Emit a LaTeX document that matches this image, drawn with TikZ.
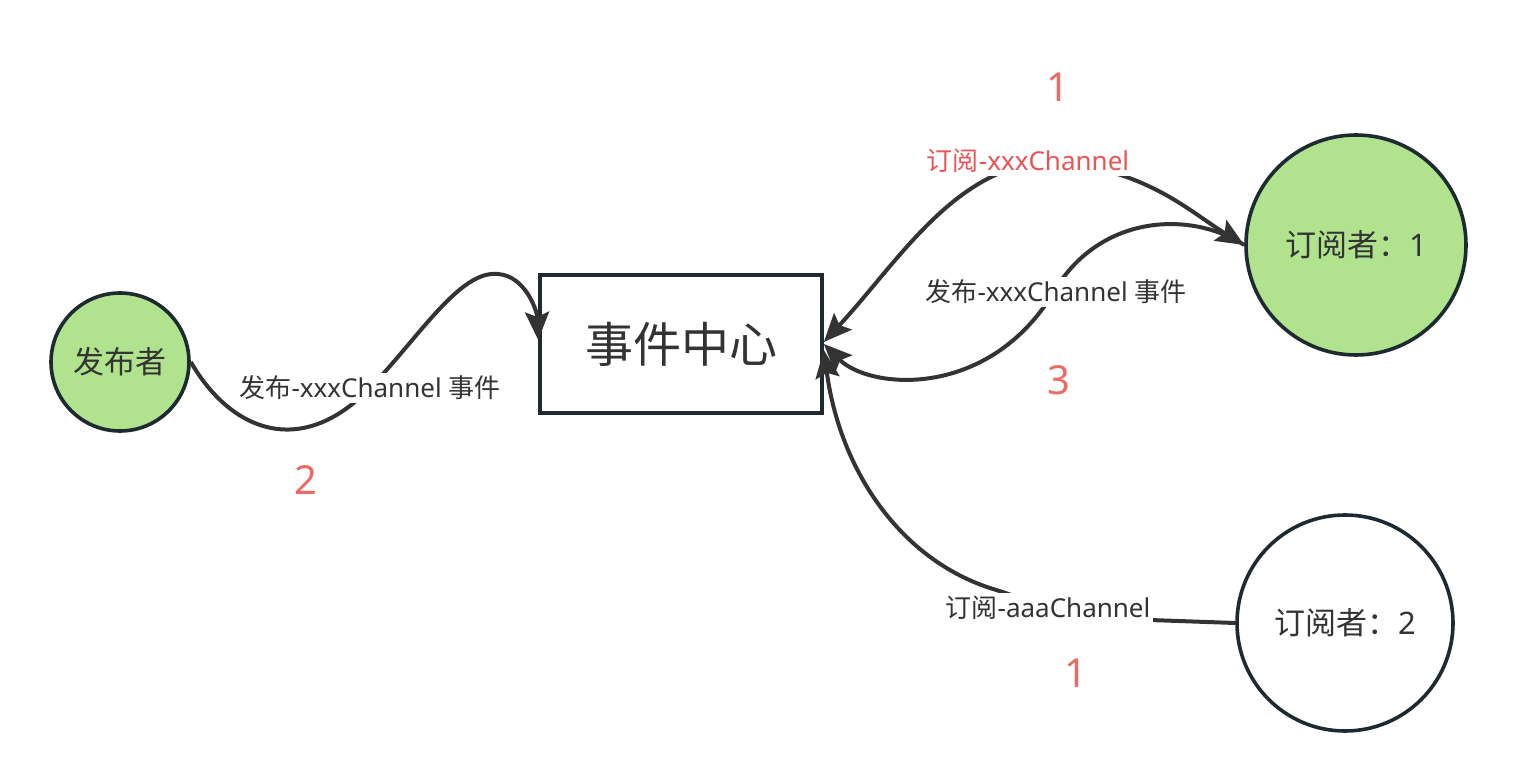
\documentclass[tikz,border=0pt]{standalone}
\usepackage{fontspec}
\setmainfont{Noto Sans}
\newfontfamily\cjk{Noto Sans CJK SC}
\usetikzlibrary{arrows.meta}
\definecolor{grn}{HTML}{B1E38E}
\definecolor{edgec}{HTML}{1E2A32}
\definecolor{txt}{HTML}{333333}
\definecolor{numc}{HTML}{EA6B66}
\definecolor{redlbl}{HTML}{E85555}
\tikzset{
 actor/.style={circle, draw=edgec, line width=3.6pt, text=txt, inner sep=0pt, font=\cjk\fontsize{31}{36}\selectfont},
 hub/.style={rectangle, draw=edgec, line width=3.6pt, minimum width=282pt, minimum height=138pt, text=txt, font=\cjk\fontsize{48}{56}\selectfont},
 conn/.style={draw=txt, line width=4pt, -{Stealth[length=28pt,width=24pt,inset=5pt]}},
 conntwo/.style={draw=txt, line width=4pt, {Stealth[length=28pt,width=24pt,inset=5pt]}-{Stealth[length=28pt,width=24pt,inset=5pt]}},
 lbl/.style={fill=white, text=txt, inner sep=3pt, font=\fontsize{26}{30}\selectfont},
 num/.style={text=numc, inner sep=0pt, font=\fontsize{40}{46}\selectfont},
}
\begin{document}
\begin{tikzpicture}[x=1pt,y=-1pt]
\useasboundingbox[fill=white] (0,0) rectangle (1516,783);
\node[actor, fill=grn, minimum size=138pt] (pub) at (120,362) {发布者};
\node[hub] (hub) at (681,344) {事件中心};
\node[actor, fill=grn, minimum size=220pt] (s1) at (1356,245) {订阅者：{\rmfamily 1}};
\node[actor, fill=white, minimum size=216pt] (s2) at (1345,623) {订阅者：{\rmfamily 2}};

\draw[conn] (pub.east) .. controls (230,430) and (300,460) .. (370,388)
  .. controls (420,336) and (460,270) .. (498,274)
  .. controls (525,276) and (537,310) .. ([yshift=4pt]hub.west);
\draw[conntwo] (s1.west) .. controls (1190,212) and (1150,172) .. (1060,162)
  .. controls (960,158) and (900,260) .. ([yshift=2pt]hub.east);
\draw[conn] (s1.west) .. controls (1190,210) and (1100,215) .. (1055,290)
  .. controls (990,400) and (870,390) .. (hub.east);
\draw[conn] (s2.west) -- (1150,620) .. controls (1060,618) and (1030,600) .. (993,589)
  .. controls (900,560) and (840,470) .. ([yshift=-6pt]hub.east);

\node[lbl] (l1) at (370,388) {{\cjk 发布}-xxxChannel {\cjk 事件}};
\node[lbl, text=redlbl] (l2) at (1028,161) {{\cjk 订阅}-xxxChannel};
\node[lbl] (l3) at (1056,292) {{\cjk 发布}-xxxChannel {\cjk 事件}};
\node[lbl] (l4) at (1048,608) {{\cjk 订阅}-aaaChannel};

\node[num] (n1) at (1058,87) {1};
\node[num] (n2) at (306,480) {2};
\node[num] (n3) at (1059,380) {3};
\node[num] (n4) at (1076,673) {1};
\end{tikzpicture}
\end{document}
